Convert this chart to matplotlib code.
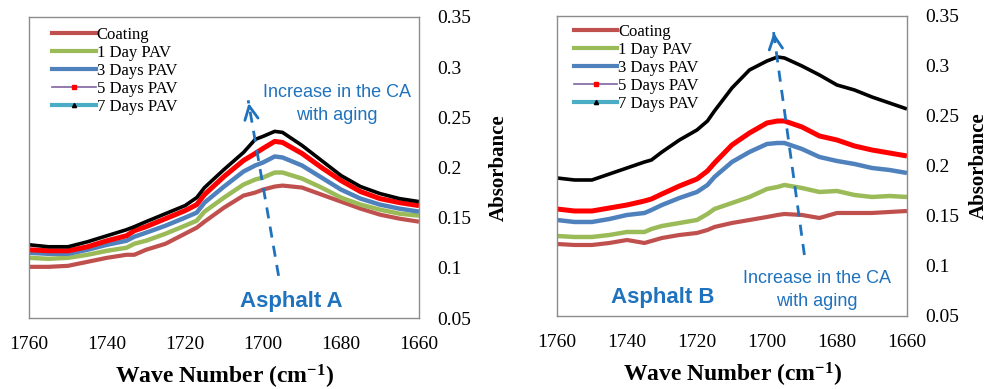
"""
FTIR carbonyl-region spectra for Asphalt A and B after PAV aging.
"""

import matplotlib
matplotlib.use('Agg')
import matplotlib.pyplot as plt
from matplotlib.lines import Line2D

# Data
labels = ['Coating', '1 Day PAV', '3 Days PAV', '5 Days PAV', '7 Days PAV']

wave_a = [1760, 1755, 1750, 1745, 1740, 1735, 1733, 1730, 1725, 1720, 1717, 1715,
          1710, 1705, 1702, 1700, 1697, 1695, 1690, 1685, 1680, 1675, 1670, 1665, 1660]
coating_a = [0.101, 0.101, 0.102, 0.106, 0.110, 0.113, 0.113, 0.118, 0.124, 0.134, 0.140, 0.146,
             0.160, 0.172, 0.175, 0.178, 0.181, 0.182, 0.180, 0.173, 0.166, 0.159, 0.153, 0.149, 0.146]
day1_a = [0.110, 0.109, 0.110, 0.113, 0.117, 0.120, 0.124, 0.127, 0.134, 0.142, 0.147, 0.156,
          0.170, 0.183, 0.188, 0.190, 0.195, 0.195, 0.189, 0.180, 0.170, 0.163, 0.158, 0.154, 0.152]
day3_a = [0.115, 0.114, 0.114, 0.118, 0.123, 0.127, 0.131, 0.135, 0.142, 0.150, 0.155, 0.165,
          0.181, 0.196, 0.202, 0.205, 0.211, 0.210, 0.202, 0.190, 0.178, 0.169, 0.163, 0.159, 0.156]
day5_a = [0.118, 0.117, 0.117, 0.121, 0.127, 0.132, 0.137, 0.141, 0.149, 0.157, 0.163, 0.173,
          0.191, 0.207, 0.214, 0.219, 0.226, 0.225, 0.214, 0.200, 0.187, 0.176, 0.169, 0.165, 0.162]
day7_a = [0.123, 0.121, 0.121, 0.126, 0.132, 0.138, 0.141, 0.146, 0.154, 0.162, 0.170, 0.180,
          0.198, 0.215, 0.228, 0.231, 0.236, 0.235, 0.222, 0.207, 0.192, 0.181, 0.174, 0.169, 0.166]

wave_b = [1760, 1755, 1750, 1745, 1740, 1735, 1733, 1730, 1725, 1720, 1717, 1715,
          1710, 1705, 1700, 1697, 1695, 1690, 1685, 1680, 1675, 1670, 1665, 1660]
coating_b = [0.122, 0.121, 0.121, 0.123, 0.126, 0.123, 0.125, 0.128, 0.131, 0.133, 0.136, 0.139,
             0.143, 0.146, 0.149, 0.151, 0.152, 0.151, 0.148, 0.153, 0.153, 0.153, 0.154, 0.155]
day1_b = [0.130, 0.129, 0.129, 0.131, 0.134, 0.134, 0.137, 0.140, 0.143, 0.146, 0.152, 0.157,
          0.163, 0.169, 0.177, 0.179, 0.181, 0.178, 0.174, 0.175, 0.171, 0.169, 0.170, 0.169]
day3_b = [0.146, 0.144, 0.144, 0.147, 0.151, 0.153, 0.156, 0.161, 0.168, 0.174, 0.181, 0.189,
          0.204, 0.214, 0.222, 0.223, 0.223, 0.217, 0.209, 0.205, 0.202, 0.198, 0.196, 0.193]
day5_b = [0.157, 0.155, 0.155, 0.158, 0.161, 0.165, 0.167, 0.172, 0.180, 0.187, 0.195, 0.203,
          0.221, 0.233, 0.243, 0.245, 0.245, 0.239, 0.230, 0.226, 0.220, 0.216, 0.213, 0.210]
day7_b = [0.188, 0.186, 0.186, 0.192, 0.198, 0.204, 0.206, 0.214, 0.226, 0.236, 0.245, 0.255,
          0.278, 0.296, 0.305, 0.309, 0.308, 0.300, 0.291, 0.281, 0.276, 0.269, 0.263, 0.257]

y_ticks = [0.05, 0.1, 0.15, 0.2, 0.25, 0.3, 0.35]
y_tick_labels = ['0.05', '0.1', '0.15', '0.2', '0.25', '0.3', '0.35']
x_ticks = [1760, 1740, 1720, 1700, 1680, 1660]

# Style
colors = ['#c0504d', '#9bbb59', '#4f81bd', '#ff0000', '#000000']
widths = [3.0, 3.2, 3.2, 3.6, 2.6]
note_color = '#1f72bd'
serif = 'Liberation Serif'
sans = 'Liberation Sans'

plt.rcParams['mathtext.fontset'] = 'custom'
plt.rcParams['mathtext.rm'] = 'Liberation Serif:bold'
plt.rcParams['mathtext.it'] = 'Liberation Serif:bold'
plt.rcParams['mathtext.bf'] = 'Liberation Serif:bold'
plt.rcParams['mathtext.default'] = 'rm'

# annotation arrows (tail, head) in data units
arrow_a = ((1696.0, 0.092), (1703.8, 0.267))
arrow_b = ((1689.3, 0.111), (1698.2, 0.336))

fig = plt.figure(figsize=(9.87, 3.89), dpi=100)
ax_a = fig.add_axes([0.0294, 0.1825, 0.3951, 0.7738])
ax_b = fig.add_axes([0.5643, 0.1877, 0.3546, 0.7712])

panels = [
    (ax_a, wave_a, [coating_a, day1_a, day3_a, day5_a, day7_a], (0.03, 1.005), 13),
    (ax_b, wave_b, [coating_b, day1_b, day3_b, day5_b, day7_b], (0.015, 1.012), 7),
]

for ax, wave, series, leg_anchor, ypad in panels:
    for ys, c, lw in zip(series, colors, widths):
        ax.plot(wave, ys, color=c, linewidth=lw, solid_capstyle='butt')
    ax.set_xlim(1760, 1660)
    ax.set_ylim(0.05, 0.35)
    ax.set_xticks(x_ticks)
    ax.set_xticklabels([str(t) for t in x_ticks], fontfamily=serif, fontsize=14)
    ax.yaxis.tick_right()
    ax.set_yticks(y_ticks)
    ax.set_yticklabels(y_tick_labels, fontfamily=serif, fontsize=14)
    ax.tick_params(axis='y', length=0, pad=13)
    ax.tick_params(axis='x', length=0, pad=13)
    for sp in ax.spines.values():
        sp.set_color('#8c8c8c')
        sp.set_linewidth(1.0)
    ax.set_xlabel('Wave Number (cm$^{-1}$)', fontfamily=serif, fontsize=17,
                  fontweight='bold', labelpad=7)
    ax.yaxis.set_label_position('right')
    ax.set_ylabel('Absorbance', fontfamily=serif, fontsize=15, fontweight='bold',
                  rotation=90, labelpad=ypad)

    # legend with the original (odd) marker handles
    handles = [
        Line2D([], [], color=colors[0], lw=3),
        Line2D([], [], color=colors[1], lw=3),
        Line2D([], [], color=colors[2], lw=3),
        Line2D([], [], color='#8064a2', lw=1.2, marker='s', markersize=3,
               markerfacecolor='#ff0000', markeredgecolor='#ff0000'),
        Line2D([], [], color='#4bacc6', lw=3, marker='^', markersize=3,
               markerfacecolor='#000000', markeredgecolor='#000000'),
    ]
    ax.legend(handles, labels, loc='upper left', frameon=False,
              prop={'family': serif, 'size': 12}, handlelength=2.6,
              handletextpad=0.05, labelspacing=0.12, borderaxespad=0.3,
              bbox_to_anchor=leg_anchor)


def ca_arrow(ax, tail, head):
    ax.plot([tail[0], head[0]], [tail[1], head[1]], color=note_color,
            linestyle=(0, (4, 3)), linewidth=2)
    dx = head[0] - tail[0]
    dy = head[1] - tail[1]
    ax.annotate('', xy=head, xytext=(head[0] - 0.06 * dx, head[1] - 0.06 * dy),
                arrowprops=dict(arrowstyle='->', color=note_color, lw=2,
                                mutation_scale=24))


ca_arrow(ax_a, *arrow_a)
ca_arrow(ax_b, *arrow_b)

ax_a.text(0.79, 0.711, 'Increase in the CA\nwith aging', transform=ax_a.transAxes,
          ha='center', va='center', color=note_color, fontfamily=sans,
          fontsize=13, linespacing=1.45)
ax_a.text(0.672, 0.056, 'Asphalt A', transform=ax_a.transAxes, ha='center',
          va='center', color=note_color, fontfamily=sans, fontsize=16,
          fontweight='bold')

ax_b.text(0.743, 0.088, 'Increase in the CA\nwith aging', transform=ax_b.transAxes,
          ha='center', va='center', color=note_color, fontfamily=sans,
          fontsize=13, linespacing=1.45)
ax_b.text(0.303, 0.063, 'Asphalt B', transform=ax_b.transAxes, ha='center',
          va='center', color=note_color, fontfamily=sans, fontsize=16,
          fontweight='bold')

plt.savefig('out.png', dpi=100)
plt.close()
